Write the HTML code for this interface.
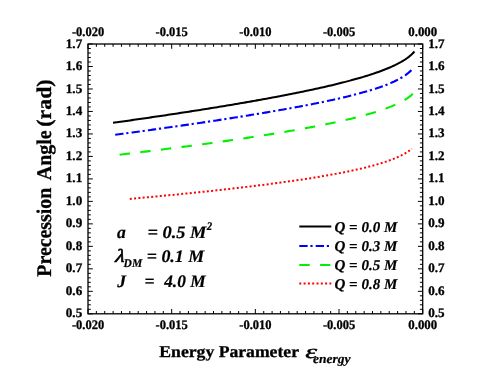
<!DOCTYPE html>
<html><head><meta charset="utf-8">
<style>
html,body{margin:0;padding:0;background:#fff;}
svg{display:block;will-change:transform;font-family:"Liberation Serif",serif;text-rendering:geometricPrecision;}
.tk{font-size:13.1px;font-weight:bold;fill:#000;stroke:#000;stroke-width:0.3px;}
.bi{font-weight:bold;font-style:italic;fill:#000;stroke:#000;stroke-width:0.2px;}
.b{font-weight:bold;fill:#000;}
.i{font-style:italic;font-weight:normal;fill:#000;}
</style></head><body>
<svg width="491" height="376" viewBox="0 0 491 376">
<rect width="491" height="376" fill="#fff"/>
<g fill="none" stroke-linecap="butt" stroke-linejoin="round">
<path d="M113.00,122.81 L114.90,122.55 L116.79,122.28 L118.69,122.01 L120.58,121.75 L122.48,121.48 L124.38,121.21 L126.27,120.94 L128.17,120.67 L130.07,120.40 L131.96,120.13 L133.86,119.86 L135.75,119.58 L137.65,119.31 L139.55,119.04 L141.44,118.76 L143.34,118.49 L145.24,118.21 L147.13,117.94 L149.03,117.66 L150.92,117.38 L152.82,117.10 L154.72,116.82 L156.61,116.55 L158.51,116.26 L160.41,115.98 L162.30,115.70 L164.20,115.42 L166.09,115.14 L167.99,114.85 L169.89,114.57 L171.78,114.28 L173.68,113.99 L175.58,113.71 L177.47,113.42 L179.37,113.13 L181.26,112.84 L183.16,112.55 L185.06,112.26 L186.95,111.96 L188.85,111.67 L190.75,111.38 L192.64,111.08 L194.54,110.78 L196.43,110.49 L198.33,110.19 L200.23,109.89 L202.12,109.59 L204.02,109.29 L205.92,108.99 L207.81,108.68 L209.71,108.38 L211.60,108.07 L213.50,107.77 L215.40,107.46 L217.29,107.15 L219.19,106.84 L221.08,106.53 L222.98,106.22 L224.88,105.90 L226.77,105.59 L228.67,105.27 L230.57,104.96 L232.46,104.64 L234.36,104.32 L236.25,104.00 L238.15,103.67 L240.05,103.35 L241.94,103.03 L243.84,102.70 L245.74,102.37 L247.63,102.04 L249.53,101.71 L251.42,101.38 L253.32,101.04 L255.22,100.71 L257.11,100.37 L259.01,100.03 L260.91,99.69 L262.80,99.35 L264.70,99.00 L266.59,98.65 L268.49,98.31 L270.39,97.96 L272.28,97.60 L274.18,97.25 L276.08,96.89 L277.97,96.54 L279.87,96.18 L281.76,95.81 L283.66,95.45 L285.56,95.08 L287.45,94.71 L289.35,94.34 L291.25,93.97 L293.14,93.59 L295.04,93.21 L296.93,92.83 L298.83,92.44 L300.73,92.05 L302.62,91.66 L304.52,91.27 L306.42,90.87 L308.31,90.47 L310.21,90.07 L312.10,89.66 L314.00,89.25 L315.90,88.84 L317.79,88.42 L319.69,88.00 L321.58,87.58 L323.48,87.15 L325.38,86.72 L327.27,86.28 L329.17,85.84 L331.07,85.39 L332.96,84.94 L334.86,84.48 L336.75,84.02 L338.65,83.55 L340.55,83.08 L342.44,82.60 L344.34,82.12 L346.24,81.63 L348.13,81.13 L350.03,80.63 L351.92,80.11 L353.82,79.59 L355.72,79.07 L357.61,78.53 L359.51,77.99 L361.41,77.43 L363.30,76.87 L365.20,76.29 L367.09,75.71 L368.99,75.11 L370.89,74.50 L372.78,73.88 L374.68,73.24 L376.58,72.59 L378.47,71.92 L380.37,71.23 L382.26,70.52 L384.16,69.80 L386.06,69.05 L387.95,68.27 L389.85,67.47 L391.75,66.64 L393.64,65.77 L395.54,64.87 L397.43,63.92 L399.33,62.92 L401.23,61.87 L403.12,60.75 L405.02,59.56 L406.92,58.27 L408.81,56.86 L410.71,55.31 L412.60,53.56 L414.50,51.54" stroke="#000" stroke-width="2.05"/>
<path d="M115.20,134.78 L117.07,134.53 L118.95,134.28 L120.82,134.03 L122.69,133.77 L124.56,133.52 L126.44,133.27 L128.31,133.01 L130.18,132.76 L132.06,132.50 L133.93,132.25 L135.80,131.99 L137.68,131.73 L139.55,131.48 L141.42,131.22 L143.29,130.96 L145.17,130.70 L147.04,130.44 L148.91,130.18 L150.79,129.92 L152.66,129.66 L154.53,129.40 L156.41,129.14 L158.28,128.88 L160.15,128.61 L162.02,128.35 L163.90,128.09 L165.77,127.82 L167.64,127.56 L169.52,127.29 L171.39,127.03 L173.26,126.76 L175.13,126.49 L177.01,126.22 L178.88,125.95 L180.75,125.68 L182.63,125.41 L184.50,125.14 L186.37,124.87 L188.25,124.60 L190.12,124.33 L191.99,124.05 L193.86,123.78 L195.74,123.50 L197.61,123.23 L199.48,122.95 L201.36,122.67 L203.23,122.40 L205.10,122.12 L206.97,121.84 L208.85,121.56 L210.72,121.28 L212.59,120.99 L214.47,120.71 L216.34,120.43 L218.21,120.14 L220.09,119.85 L221.96,119.57 L223.83,119.28 L225.70,118.99 L227.58,118.70 L229.45,118.41 L231.32,118.12 L233.20,117.83 L235.07,117.53 L236.94,117.24 L238.82,116.94 L240.69,116.64 L242.56,116.34 L244.43,116.04 L246.31,115.74 L248.18,115.44 L250.05,115.14 L251.93,114.83 L253.80,114.53 L255.67,114.22 L257.54,113.91 L259.42,113.60 L261.29,113.29 L263.16,112.98 L265.04,112.66 L266.91,112.35 L268.78,112.03 L270.66,111.71 L272.53,111.39 L274.40,111.07 L276.27,110.74 L278.15,110.42 L280.02,110.09 L281.89,109.76 L283.77,109.43 L285.64,109.09 L287.51,108.76 L289.38,108.42 L291.26,108.08 L293.13,107.74 L295.00,107.40 L296.88,107.05 L298.75,106.70 L300.62,106.35 L302.50,105.99 L304.37,105.64 L306.24,105.28 L308.11,104.92 L309.99,104.55 L311.86,104.18 L313.73,103.81 L315.61,103.44 L317.48,103.06 L319.35,102.68 L321.23,102.30 L323.10,101.91 L324.97,101.52 L326.84,101.12 L328.72,100.72 L330.59,100.32 L332.46,99.91 L334.34,99.50 L336.21,99.08 L338.08,98.66 L339.95,98.23 L341.83,97.80 L343.70,97.36 L345.57,96.92 L347.45,96.46 L349.32,96.01 L351.19,95.54 L353.07,95.07 L354.94,94.59 L356.81,94.11 L358.68,93.61 L360.56,93.11 L362.43,92.59 L364.30,92.07 L366.18,91.53 L368.05,90.99 L369.92,90.43 L371.79,89.86 L373.67,89.27 L375.54,88.67 L377.41,88.05 L379.29,87.42 L381.16,86.76 L383.03,86.09 L384.91,85.39 L386.78,84.67 L388.65,83.91 L390.52,83.13 L392.40,82.31 L394.27,81.46 L396.14,80.55 L398.02,79.60 L399.89,78.59 L401.76,77.50 L403.64,76.34 L405.51,75.07 L407.38,73.69 L409.25,72.14 L411.13,70.39 L413.00,68.36" stroke="#0000ff" stroke-width="2.1" stroke-dasharray="8.35 2.8 2.2 3.15"/>
<path d="M119.60,154.72 L121.45,154.50 L123.29,154.28 L125.14,154.05 L126.98,153.83 L128.83,153.61 L130.67,153.39 L132.52,153.17 L134.36,152.94 L136.21,152.72 L138.05,152.49 L139.90,152.27 L141.74,152.04 L143.59,151.81 L145.43,151.59 L147.28,151.36 L149.12,151.13 L150.97,150.90 L152.82,150.67 L154.66,150.44 L156.51,150.21 L158.35,149.98 L160.20,149.75 L162.04,149.51 L163.89,149.28 L165.73,149.05 L167.58,148.81 L169.42,148.58 L171.27,148.34 L173.11,148.10 L174.96,147.86 L176.80,147.63 L178.65,147.39 L180.49,147.15 L182.34,146.90 L184.18,146.66 L186.03,146.42 L187.88,146.18 L189.72,145.93 L191.57,145.69 L193.41,145.44 L195.26,145.20 L197.10,144.95 L198.95,144.70 L200.79,144.45 L202.64,144.20 L204.48,143.95 L206.33,143.70 L208.17,143.45 L210.02,143.19 L211.86,142.94 L213.71,142.68 L215.55,142.42 L217.40,142.17 L219.25,141.91 L221.09,141.65 L222.94,141.39 L224.78,141.13 L226.63,140.86 L228.47,140.60 L230.32,140.33 L232.16,140.07 L234.01,139.80 L235.85,139.53 L237.70,139.26 L239.54,138.99 L241.39,138.72 L243.23,138.44 L245.08,138.17 L246.92,137.89 L248.77,137.61 L250.62,137.33 L252.46,137.05 L254.31,136.77 L256.15,136.49 L258.00,136.20 L259.84,135.91 L261.69,135.63 L263.53,135.34 L265.38,135.04 L267.22,134.75 L269.07,134.46 L270.91,134.16 L272.76,133.86 L274.60,133.56 L276.45,133.26 L278.29,132.96 L280.14,132.65 L281.98,132.34 L283.83,132.03 L285.68,131.72 L287.52,131.41 L289.37,131.09 L291.21,130.77 L293.06,130.45 L294.90,130.13 L296.75,129.80 L298.59,129.48 L300.44,129.15 L302.28,128.81 L304.13,128.48 L305.97,128.14 L307.82,127.80 L309.66,127.45 L311.51,127.11 L313.35,126.76 L315.20,126.40 L317.05,126.05 L318.89,125.68 L320.74,125.32 L322.58,124.95 L324.43,124.58 L326.27,124.21 L328.12,123.83 L329.96,123.45 L331.81,123.06 L333.65,122.67 L335.50,122.27 L337.34,121.87 L339.19,121.47 L341.03,121.05 L342.88,120.64 L344.72,120.22 L346.57,119.79 L348.42,119.35 L350.26,118.91 L352.11,118.47 L353.95,118.01 L355.80,117.55 L357.64,117.08 L359.49,116.61 L361.33,116.12 L363.18,115.63 L365.02,115.12 L366.87,114.61 L368.71,114.09 L370.56,113.55 L372.40,113.00 L374.25,112.44 L376.09,111.87 L377.94,111.28 L379.78,110.67 L381.63,110.05 L383.48,109.41 L385.32,108.75 L387.17,108.07 L389.01,107.36 L390.86,106.63 L392.70,105.87 L394.55,105.08 L396.39,104.24 L398.24,103.37 L400.08,102.45 L401.93,101.48 L403.77,100.44 L405.62,99.32 L407.46,98.12 L409.31,96.79 L411.15,95.33 L413.00,93.67" stroke="#00f000" stroke-width="2.1" stroke-dasharray="10.4 10.4"/>
<path d="M129.80,198.91 L131.57,198.75 L133.35,198.59 L135.12,198.43 L136.90,198.26 L138.67,198.10 L140.45,197.94 L142.22,197.78 L143.99,197.61 L145.77,197.45 L147.54,197.28 L149.32,197.12 L151.09,196.95 L152.86,196.79 L154.64,196.62 L156.41,196.45 L158.19,196.28 L159.96,196.11 L161.74,195.94 L163.51,195.77 L165.28,195.60 L167.06,195.43 L168.83,195.26 L170.61,195.08 L172.38,194.91 L174.16,194.74 L175.93,194.56 L177.70,194.39 L179.48,194.21 L181.25,194.03 L183.03,193.85 L184.80,193.68 L186.57,193.50 L188.35,193.32 L190.12,193.14 L191.90,192.95 L193.67,192.77 L195.45,192.59 L197.22,192.40 L198.99,192.22 L200.77,192.03 L202.54,191.85 L204.32,191.66 L206.09,191.47 L207.87,191.28 L209.64,191.09 L211.41,190.90 L213.19,190.71 L214.96,190.52 L216.74,190.32 L218.51,190.13 L220.28,189.93 L222.06,189.74 L223.83,189.54 L225.61,189.34 L227.38,189.14 L229.16,188.94 L230.93,188.74 L232.70,188.54 L234.48,188.33 L236.25,188.13 L238.03,187.92 L239.80,187.71 L241.58,187.50 L243.35,187.29 L245.12,187.08 L246.90,186.87 L248.67,186.66 L250.45,186.44 L252.22,186.23 L253.99,186.01 L255.77,185.79 L257.54,185.57 L259.32,185.35 L261.09,185.12 L262.87,184.90 L264.64,184.67 L266.41,184.45 L268.19,184.22 L269.96,183.98 L271.74,183.75 L273.51,183.52 L275.29,183.28 L277.06,183.04 L278.83,182.80 L280.61,182.56 L282.38,182.32 L284.16,182.08 L285.93,181.83 L287.71,181.58 L289.48,181.33 L291.25,181.08 L293.03,180.82 L294.80,180.56 L296.58,180.30 L298.35,180.04 L300.12,179.78 L301.90,179.51 L303.67,179.24 L305.45,178.97 L307.22,178.70 L309.00,178.42 L310.77,178.14 L312.54,177.86 L314.32,177.57 L316.09,177.28 L317.87,176.99 L319.64,176.70 L321.42,176.40 L323.19,176.10 L324.96,175.79 L326.74,175.48 L328.51,175.17 L330.29,174.85 L332.06,174.53 L333.83,174.21 L335.61,173.88 L337.38,173.55 L339.16,173.21 L340.93,172.87 L342.71,172.52 L344.48,172.17 L346.25,171.81 L348.03,171.45 L349.80,171.08 L351.58,170.70 L353.35,170.32 L355.13,169.93 L356.90,169.54 L358.67,169.14 L360.45,168.73 L362.22,168.31 L364.00,167.88 L365.77,167.45 L367.54,167.00 L369.32,166.55 L371.09,166.08 L372.87,165.60 L374.64,165.11 L376.42,164.61 L378.19,164.10 L379.96,163.57 L381.74,163.02 L383.51,162.46 L385.29,161.88 L387.06,161.28 L388.84,160.65 L390.61,160.01 L392.38,159.33 L394.16,158.63 L395.93,157.90 L397.71,157.12 L399.48,156.31 L401.25,155.45 L403.03,154.53 L404.80,153.55 L406.58,152.50 L408.35,151.35 L410.13,150.08 L411.90,148.67" stroke="#ff0000" stroke-width="2" stroke-dasharray="2 2.3"/>
</g>
<rect x="88.0" y="44.0" width="334.7" height="269.8" fill="none" stroke="#000" stroke-width="1.3"/>
<path d="M88.00,44.0 v4.8 M88.00,313.8 v-4.8 M96.37,44.0 v2.8 M96.37,313.8 v-2.8 M104.73,44.0 v2.8 M104.73,313.8 v-2.8 M113.10,44.0 v2.8 M113.10,313.8 v-2.8 M121.47,44.0 v2.8 M121.47,313.8 v-2.8 M129.84,44.0 v2.8 M129.84,313.8 v-2.8 M138.20,44.0 v2.8 M138.20,313.8 v-2.8 M146.57,44.0 v2.8 M146.57,313.8 v-2.8 M154.94,44.0 v2.8 M154.94,313.8 v-2.8 M163.31,44.0 v2.8 M163.31,313.8 v-2.8 M171.68,44.0 v4.8 M171.68,313.8 v-4.8 M180.04,44.0 v2.8 M180.04,313.8 v-2.8 M188.41,44.0 v2.8 M188.41,313.8 v-2.8 M196.78,44.0 v2.8 M196.78,313.8 v-2.8 M205.15,44.0 v2.8 M205.15,313.8 v-2.8 M213.51,44.0 v2.8 M213.51,313.8 v-2.8 M221.88,44.0 v2.8 M221.88,313.8 v-2.8 M230.25,44.0 v2.8 M230.25,313.8 v-2.8 M238.61,44.0 v2.8 M238.61,313.8 v-2.8 M246.98,44.0 v2.8 M246.98,313.8 v-2.8 M255.35,44.0 v4.8 M255.35,313.8 v-4.8 M263.72,44.0 v2.8 M263.72,313.8 v-2.8 M272.08,44.0 v2.8 M272.08,313.8 v-2.8 M280.45,44.0 v2.8 M280.45,313.8 v-2.8 M288.82,44.0 v2.8 M288.82,313.8 v-2.8 M297.19,44.0 v2.8 M297.19,313.8 v-2.8 M305.55,44.0 v2.8 M305.55,313.8 v-2.8 M313.92,44.0 v2.8 M313.92,313.8 v-2.8 M322.29,44.0 v2.8 M322.29,313.8 v-2.8 M330.66,44.0 v2.8 M330.66,313.8 v-2.8 M339.02,44.0 v4.8 M339.02,313.8 v-4.8 M347.39,44.0 v2.8 M347.39,313.8 v-2.8 M355.76,44.0 v2.8 M355.76,313.8 v-2.8 M364.13,44.0 v2.8 M364.13,313.8 v-2.8 M372.50,44.0 v2.8 M372.50,313.8 v-2.8 M380.86,44.0 v2.8 M380.86,313.8 v-2.8 M389.23,44.0 v2.8 M389.23,313.8 v-2.8 M397.60,44.0 v2.8 M397.60,313.8 v-2.8 M405.97,44.0 v2.8 M405.97,313.8 v-2.8 M414.33,44.0 v2.8 M414.33,313.8 v-2.8 M422.70,44.0 v4.8 M422.70,313.8 v-4.8 M88.0,44.00 h4.8 M422.7,44.00 h-4.8 M88.0,48.50 h2.8 M422.7,48.50 h-2.8 M88.0,52.99 h2.8 M422.7,52.99 h-2.8 M88.0,57.49 h2.8 M422.7,57.49 h-2.8 M88.0,61.99 h2.8 M422.7,61.99 h-2.8 M88.0,66.48 h4.8 M422.7,66.48 h-4.8 M88.0,70.98 h2.8 M422.7,70.98 h-2.8 M88.0,75.48 h2.8 M422.7,75.48 h-2.8 M88.0,79.97 h2.8 M422.7,79.97 h-2.8 M88.0,84.47 h2.8 M422.7,84.47 h-2.8 M88.0,88.97 h4.8 M422.7,88.97 h-4.8 M88.0,93.46 h2.8 M422.7,93.46 h-2.8 M88.0,97.96 h2.8 M422.7,97.96 h-2.8 M88.0,102.46 h2.8 M422.7,102.46 h-2.8 M88.0,106.95 h2.8 M422.7,106.95 h-2.8 M88.0,111.45 h4.8 M422.7,111.45 h-4.8 M88.0,115.95 h2.8 M422.7,115.95 h-2.8 M88.0,120.44 h2.8 M422.7,120.44 h-2.8 M88.0,124.94 h2.8 M422.7,124.94 h-2.8 M88.0,129.44 h2.8 M422.7,129.44 h-2.8 M88.0,133.93 h4.8 M422.7,133.93 h-4.8 M88.0,138.43 h2.8 M422.7,138.43 h-2.8 M88.0,142.93 h2.8 M422.7,142.93 h-2.8 M88.0,147.42 h2.8 M422.7,147.42 h-2.8 M88.0,151.92 h2.8 M422.7,151.92 h-2.8 M88.0,156.42 h4.8 M422.7,156.42 h-4.8 M88.0,160.91 h2.8 M422.7,160.91 h-2.8 M88.0,165.41 h2.8 M422.7,165.41 h-2.8 M88.0,169.91 h2.8 M422.7,169.91 h-2.8 M88.0,174.40 h2.8 M422.7,174.40 h-2.8 M88.0,178.90 h4.8 M422.7,178.90 h-4.8 M88.0,183.40 h2.8 M422.7,183.40 h-2.8 M88.0,187.89 h2.8 M422.7,187.89 h-2.8 M88.0,192.39 h2.8 M422.7,192.39 h-2.8 M88.0,196.89 h2.8 M422.7,196.89 h-2.8 M88.0,201.38 h4.8 M422.7,201.38 h-4.8 M88.0,205.88 h2.8 M422.7,205.88 h-2.8 M88.0,210.38 h2.8 M422.7,210.38 h-2.8 M88.0,214.87 h2.8 M422.7,214.87 h-2.8 M88.0,219.37 h2.8 M422.7,219.37 h-2.8 M88.0,223.87 h4.8 M422.7,223.87 h-4.8 M88.0,228.36 h2.8 M422.7,228.36 h-2.8 M88.0,232.86 h2.8 M422.7,232.86 h-2.8 M88.0,237.36 h2.8 M422.7,237.36 h-2.8 M88.0,241.85 h2.8 M422.7,241.85 h-2.8 M88.0,246.35 h4.8 M422.7,246.35 h-4.8 M88.0,250.85 h2.8 M422.7,250.85 h-2.8 M88.0,255.34 h2.8 M422.7,255.34 h-2.8 M88.0,259.84 h2.8 M422.7,259.84 h-2.8 M88.0,264.34 h2.8 M422.7,264.34 h-2.8 M88.0,268.83 h4.8 M422.7,268.83 h-4.8 M88.0,273.33 h2.8 M422.7,273.33 h-2.8 M88.0,277.83 h2.8 M422.7,277.83 h-2.8 M88.0,282.32 h2.8 M422.7,282.32 h-2.8 M88.0,286.82 h2.8 M422.7,286.82 h-2.8 M88.0,291.32 h4.8 M422.7,291.32 h-4.8 M88.0,295.81 h2.8 M422.7,295.81 h-2.8 M88.0,300.31 h2.8 M422.7,300.31 h-2.8 M88.0,304.81 h2.8 M422.7,304.81 h-2.8 M88.0,309.30 h2.8 M422.7,309.30 h-2.8 M88.0,313.80 h4.8 M422.7,313.80 h-4.8" stroke="#000" stroke-width="1.0" fill="none"/>
<text transform="translate(71.90,35.60) scale(0.9527,1)" class="tk" font-size="13.1px" >-0.020</text>
<text transform="translate(71.90,329.30) scale(0.9527,1)" class="tk" font-size="13.1px" >-0.020</text>
<text transform="translate(155.58,35.60) scale(0.9527,1)" class="tk" font-size="13.1px" >-0.015</text>
<text transform="translate(155.58,329.30) scale(0.9527,1)" class="tk" font-size="13.1px" >-0.015</text>
<text transform="translate(239.25,35.60) scale(0.9527,1)" class="tk" font-size="13.1px" >-0.010</text>
<text transform="translate(239.25,329.30) scale(0.9527,1)" class="tk" font-size="13.1px" >-0.010</text>
<text transform="translate(322.93,35.60) scale(0.9527,1)" class="tk" font-size="13.1px" >-0.005</text>
<text transform="translate(322.93,329.30) scale(0.9527,1)" class="tk" font-size="13.1px" >-0.005</text>
<text transform="translate(408.24,35.60) scale(0.9815,1)" class="tk" font-size="13.1px" >0.000</text>
<text transform="translate(408.24,329.30) scale(0.9815,1)" class="tk" font-size="13.1px" >0.000</text>
<text x="82.2" y="47.60" text-anchor="end" class="tk">1.7</text>
<text x="428.2" y="47.60" text-anchor="start" class="tk">1.7</text>
<text x="82.2" y="70.05" text-anchor="end" class="tk">1.6</text>
<text x="428.2" y="70.05" text-anchor="start" class="tk">1.6</text>
<text x="82.2" y="92.50" text-anchor="end" class="tk">1.5</text>
<text x="428.2" y="92.50" text-anchor="start" class="tk">1.5</text>
<text x="82.2" y="114.95" text-anchor="end" class="tk">1.4</text>
<text x="428.2" y="114.95" text-anchor="start" class="tk">1.4</text>
<text x="82.2" y="137.40" text-anchor="end" class="tk">1.3</text>
<text x="428.2" y="137.40" text-anchor="start" class="tk">1.3</text>
<text x="82.2" y="159.85" text-anchor="end" class="tk">1.2</text>
<text x="428.2" y="159.85" text-anchor="start" class="tk">1.2</text>
<text x="82.2" y="182.30" text-anchor="end" class="tk">1.1</text>
<text x="428.2" y="182.30" text-anchor="start" class="tk">1.1</text>
<text x="82.2" y="204.75" text-anchor="end" class="tk">1.0</text>
<text x="428.2" y="204.75" text-anchor="start" class="tk">1.0</text>
<text x="82.2" y="227.20" text-anchor="end" class="tk">0.9</text>
<text x="428.2" y="227.20" text-anchor="start" class="tk">0.9</text>
<text x="82.2" y="249.65" text-anchor="end" class="tk">0.8</text>
<text x="428.2" y="249.65" text-anchor="start" class="tk">0.8</text>
<text x="82.2" y="272.10" text-anchor="end" class="tk">0.7</text>
<text x="428.2" y="272.10" text-anchor="start" class="tk">0.7</text>
<text x="82.2" y="294.55" text-anchor="end" class="tk">0.6</text>
<text x="428.2" y="294.55" text-anchor="start" class="tk">0.6</text>
<text x="82.2" y="317.00" text-anchor="end" class="tk">0.5</text>
<text x="428.2" y="317.00" text-anchor="start" class="tk">0.5</text>
<text transform="translate(51.30,276.70) rotate(-90) scale(0.9505,1)" class="b" font-size="20.9px" stroke="#000" stroke-width="0.3">Precession</text>
<text transform="translate(51.30,180.20) rotate(-90) scale(0.9511,1)" class="b" font-size="20.9px" stroke="#000" stroke-width="0.3">Angle</text>
<text transform="translate(51.30,126.67) rotate(-90) scale(1.0444,1)" class="b" font-size="20.9px" stroke="#000" stroke-width="0.3">(rad)</text>
<text transform="translate(159.35,357.20) scale(1.0632,1)" class="b" font-size="16.6px" stroke="#000" stroke-width="0.3">Energy Parameter</text>
<text transform="translate(305.30,357.70) scale(1.5464,1)" class="i" font-size="19.4px" stroke="#000" stroke-width="0.4">ε</text>
<text transform="translate(313.03,363.00) scale(1.0396,1)" class="bi" font-size="13.0px" >energy</text>
<text x="117" y="238.3" class="bi" font-size="17.6px">a</text>
<text transform="translate(147.39,238.30) scale(1.0470,1)" class="bi" font-size="17.6px" >= 0.5 M</text>
<text transform="translate(206.81,230.40) scale(0.9245,1)" class="bi" font-size="11.7px" >2</text>
<text transform="translate(115.0,262.3) skewX(-8) scale(1.22,1.06)" font-style="italic" font-weight="normal" stroke="#000" stroke-width="0.6" font-size="17.6px">λ</text>
<text transform="translate(123.62,266.60) scale(0.9596,1)" class="bi" font-size="12.0px" >DM</text>
<text transform="translate(146.72,262.30) scale(1.0184,1)" class="bi" font-size="17.6px" >= 0.1 M</text>
<text x="117.3" y="287.3" class="bi" font-size="17.6px">J</text>
<text x="144.4" y="287.3" class="bi" font-size="17.6px">=</text>
<text transform="translate(164.17,287.30) scale(0.9844,1)" class="bi" font-size="17.6px" >4.0 M</text>
<g fill="none" stroke-width="2">
<path d="M299.3,226.6 H331.3" stroke="#000"/>
<path d="M299.3,246 H330.3" stroke="#0000ff" stroke-dasharray="8.3 2.8 2.2 3.1"/>
<path d="M299.3,265 H330.3" stroke="#00f000" stroke-dasharray="10.4 10.4"/>
<path d="M299.3,283.4 H331.3" stroke="#ff0000" stroke-dasharray="2 2.3"/>
</g>
<g class="bi" font-size="15px">
<text x="334.5" y="231.5">Q = 0.0 M</text>
<text x="334.5" y="251">Q = 0.3 M</text>
<text x="334.5" y="270.4">Q = 0.5 M</text>
<text x="334.5" y="288.7">Q = 0.8 M</text>
</g>
</svg>
</body></html>
